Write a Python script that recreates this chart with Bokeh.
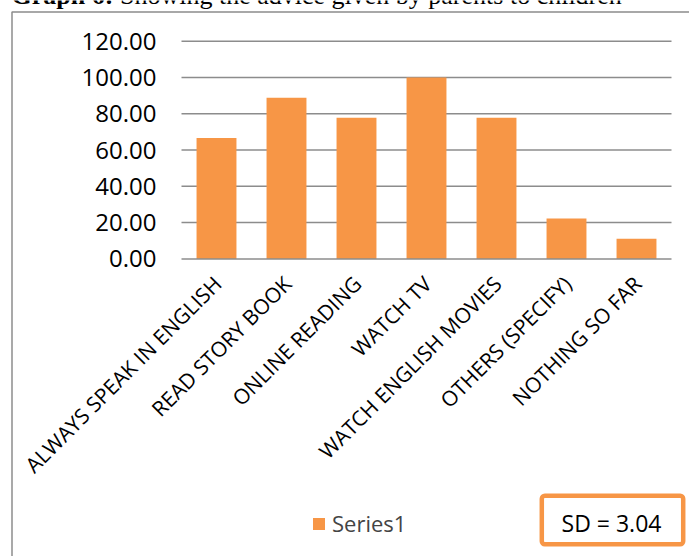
from math import pi

from bokeh.core.properties import value
from bokeh.embed import file_html
from bokeh.resources import INLINE
from bokeh.plotting import figure
from bokeh.models import (ColumnDataSource, Range1d, Legend, LegendItem,
                          Label, BoxAnnotation)

# Advice given by parents to children (percent of respondents)
categories = ["ALWAYS SPEAK IN ENGLISH", "READ STORY BOOK", "ONLINE READING",
              "WATCH TV", "WATCH ENGLISH MOVIES", "OTHERS (SPECIFY)",
              "NOTHING SO FAR"]
values = [66.67, 88.89, 77.78, 100.00, 77.78, 22.22, 11.11]
y_ticks = [0, 20, 40, 60, 80, 100, 120]
series_name = "Series1"
sd_text = "SD = 3.04"
title_bold = "Graph 6:"
title_rest = "Showing the advice given by parents to children"

# page and plot-area geometry (pixels)
W, H = 689, 556
AREA_LEFT, BAND = 181.0, 70.0          # left edge of first band, band width
AREA_TOP, AREA_BOTTOM = 40.7, 258.4    # pixel rows of the 120 and 0 lines
Y_MAX = y_ticks[-1]

ORANGE = "#F79646"
GRID = "#8c8c8c"
SANS = "Open Sans"
SERIF = "Liberation Serif"

n = len(categories)
xs = list(range(n))

# scales spanning the whole page so the caption, frame, legend and
# SD box can share one drawing surface with the bars
x_start = -0.5 - AREA_LEFT / BAND
y_per_px = Y_MAX / (AREA_BOTTOM - AREA_TOP)
x_range = Range1d(x_start, x_start + W / BAND)
y_range = Range1d(-(H - AREA_BOTTOM) * y_per_px, Y_MAX + AREA_TOP * y_per_px)

p = figure(x_range=x_range, y_range=y_range, width=W, height=H,
           output_backend="svg", toolbar_location=None,
           x_axis_type=None, y_axis_type=None,
           min_border=0, min_border_left=0, min_border_right=0,
           min_border_top=0, min_border_bottom=0)
p.outline_line_color = None
p.background_fill_color = "white"
p.border_fill_color = "white"
p.xgrid.visible = False
p.ygrid.visible = False

# horizontal gridlines across the category bands
grid_src = ColumnDataSource(data=dict(
    x0=[-0.5] * (len(y_ticks) - 1), x1=[n - 0.5] * (len(y_ticks) - 1),
    y=y_ticks[1:]))
p.segment(x0="x0", x1="x1", y0="y", y1="y", source=grid_src,
          line_color=GRID, line_width=1.5)

source = ColumnDataSource(data=dict(x=xs, val=values, cat=categories))
bars = p.vbar(x="x", top="val", width=0.57, source=source,
              fill_color=ORANGE, line_color=None)

# category axis line
p.segment(x0=[-0.5], x1=[n - 0.5], y0=[y_ticks[0]], y1=[y_ticks[0]],
          line_color=GRID, line_width=1.5)

# value tick labels
tick_src = ColumnDataSource(data=dict(
    x=[-0.5] * len(y_ticks), y=y_ticks,
    txt=[f"{t:.2f}" for t in y_ticks]))
p.text(x="x", y="y", text="txt", source=tick_src, x_offset=-25,
       text_align="right", text_baseline="middle",
       text_font=value(SANS), text_font_size=value("24px"),
       text_color="black")

# slanted category labels
p.text(x="x", y=0, text="cat", source=source, angle=pi / 4,
       x_offset=1, y_offset=21, text_align="right", text_baseline="middle",
       text_font=value(SANS), text_font_size=value("21px"),
       text_color="black")

legend = Legend(items=[LegendItem(label=series_name, renderers=[bars])],
                location=(311, 18), orientation="horizontal",
                padding=0, margin=0, spacing=0,
                glyph_width=15, glyph_height=15, label_standoff=6,
                label_text_font=SANS, label_text_font_size="22px",
                border_line_color=None, background_fill_alpha=0)
p.add_layout(legend)

# chart frame
p.add_layout(BoxAnnotation(left=11.5, right=W + 20, top=11.5, bottom=H + 20,
                           left_units="canvas", right_units="canvas",
                           top_units="canvas", bottom_units="canvas",
                           fill_alpha=0, line_color=GRID, line_alpha=1,
                           line_width=1.5, level="overlay"))

# standard deviation box
p.add_layout(BoxAnnotation(left=541.3, right=682.7, top=495.3, bottom=543.7,
                           left_units="canvas", right_units="canvas",
                           top_units="canvas", bottom_units="canvas",
                           fill_color="white", fill_alpha=1,
                           line_color=ORANGE, line_alpha=1, line_width=4.5,
                           border_radius=3, level="overlay"))
p.add_layout(Label(x=611, y=522, x_units="canvas", y_units="canvas",
                   text=sd_text, text_align="center", text_baseline="middle",
                   text_font=SANS, text_font_size="23px", text_color="black",
                   level="overlay"))

# caption above the chart
p.add_layout(Label(x=11, y=-5, x_units="canvas", y_units="canvas",
                   text=title_bold, text_align="left",
                   text_baseline="alphabetic", text_font=SERIF,
                   text_font_style="bold", text_font_size="26px",
                   text_color="black", level="overlay"))
p.add_layout(Label(x=119.5, y=-5, x_units="canvas", y_units="canvas",
                   text=title_rest, text_align="left",
                   text_baseline="alphabetic", text_font=SERIF,
                   text_font_size="26px", text_color="black",
                   level="overlay"))

open("out.html", "w").write(file_html(p, INLINE))
